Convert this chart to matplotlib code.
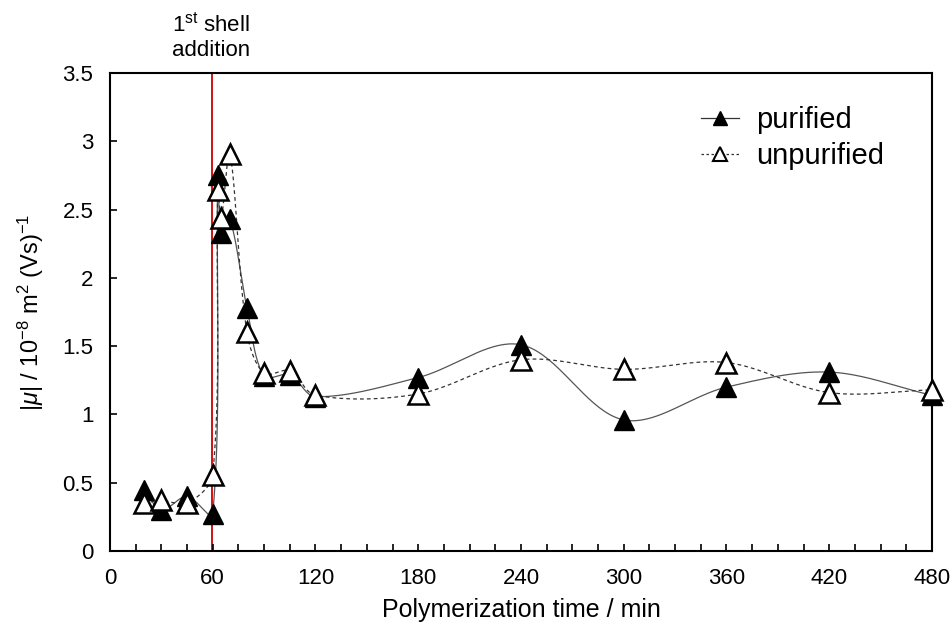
import numpy as np
import matplotlib
matplotlib.use("Agg")
import matplotlib.pyplot as plt
from matplotlib.lines import Line2D

plt.rcParams['font.family'] = ['Liberation Sans', 'DejaVu Sans']
plt.rcParams['mathtext.fontset'] = 'custom'
plt.rcParams['mathtext.rm'] = 'Liberation Sans'
plt.rcParams['mathtext.it'] = 'Liberation Sans:italic'

# data
time_min = [20, 30, 45, 60, 63, 65, 70, 80, 90, 105, 120, 180, 240, 300, 360, 420, 480]
purified = [0.45, 0.30, 0.40, 0.27, 2.75, 2.33, 2.43, 1.78, 1.28, 1.29, 1.13,
            1.27, 1.51, 0.96, 1.20, 1.31, 1.14]
unpurified = [0.35, 0.37, 0.35, 0.56, 2.64, 2.44, 2.91, 1.60, 1.30, 1.32, 1.14,
              1.15, 1.40, 1.33, 1.38, 1.16, 1.18]
x_ticks = [0, 60, 120, 180, 240, 300, 360, 420, 480]
y_ticks = [0, 0.5, 1, 1.5, 2, 2.5, 3, 3.5]
y_tick_labels = ['0', '0.5', '1', '1.5', '2', '2.5', '3', '3.5']
shell_time = 59.5


def smooth(x, y, sx=480.0, sy=6.0, n=40):
    # Excel-like smoothed line: Bezier segments, tangents limited by segment length
    p = np.column_stack([np.asarray(x, float) / sx, np.asarray(y, float) / sy])
    out = []
    for i in range(len(p) - 1):
        p0 = p[i - 1] if i > 0 else p[i]
        p1, p2 = p[i], p[i + 1]
        p3 = p[i + 2] if i + 2 < len(p) else p[i + 1]
        d01 = np.linalg.norm(p1 - p0)
        d12 = np.linalg.norm(p2 - p1)
        d23 = np.linalg.norm(p3 - p2)
        c1 = p1 + (p2 - p0) * (d12 / (d01 + d12)) / 3.0 if d01 > 0 else p1 + (p2 - p1) / 3.0
        c2 = p2 - (p3 - p1) * (d12 / (d12 + d23)) / 3.0 if d23 > 0 else p2 - (p2 - p1) / 3.0
        t = np.linspace(0, 1, n)[:, None]
        seg = ((1 - t) ** 3) * p1 + 3 * ((1 - t) ** 2) * t * c1 + 3 * (1 - t) * t ** 2 * c2 + t ** 3 * p2
        out.append(seg if i == 0 else seg[1:])
    out = np.vstack(out)
    return out[:, 0] * sx, out[:, 1] * sy


fig = plt.figure(figsize=(9.52, 6.28), dpi=100)
ax = fig.add_axes([0.1155, 0.1226, 0.8635, 0.7612])

ax.axvline(shell_time, color='#cc0000', lw=1.3, zorder=1)

sx, sy = smooth(time_min, purified)
ax.plot(sx, sy, color='#555555', lw=0.9, zorder=2)
sx, sy = smooth(time_min, unpurified)
ax.plot(sx, sy, color='#333333', lw=0.9, ls=(0, (3, 2.5)), zorder=2)

ax.plot(time_min, purified, ls='none', marker='^', ms=14, mfc='black', mec='black',
        zorder=3, clip_on=False)
ax.plot(time_min, unpurified, ls='none', marker='^', ms=14, mfc='white', mec='black',
        mew=1.8, zorder=4, clip_on=False)

ax.set_xlim(0, 480)
ax.set_ylim(0, 3.5)
ax.set_xticks(x_ticks)
ax.set_xticks(np.arange(0, 481, 15), minor=True)
ax.set_yticks(y_ticks)
ax.set_yticklabels(y_tick_labels)
ax.tick_params(axis='both', which='both', direction='in', labelsize=16, width=1.2, color='black')
ax.tick_params(axis='x', which='both', length=5, pad=12)
ax.tick_params(axis='y', which='major', length=5, pad=12)
for s in ax.spines.values():
    s.set_linewidth(1.5)

ax.set_xlabel('Polymerization time / min', fontsize=18, labelpad=7)
ax.set_ylabel(r'$|\mathit{\mu}|$ / 10$^{-8}$ m$^2$ (Vs)$^{-1}$', fontsize=17, labelpad=12)

ax.text(shell_time - 0.5, 1.025, '1$^{\\rm st}$ shell\naddition', transform=ax.get_xaxis_transform(),
        ha='center', va='bottom', fontsize=16, linespacing=1.2)

handles = [
    Line2D([], [], color='#333333', lw=0.9, marker='^', ms=10, mfc='black', mec='black'),
    Line2D([], [], color='#333333', lw=0.9, ls=(0, (2, 2)), marker='^', ms=10, mfc='white',
           mec='black', mew=1.5),
]
ax.legend(handles, ['purified', 'unpurified'], loc='upper left', bbox_to_anchor=(0.687, 0.985),
          frameon=False, fontsize=21, handlelength=1.3, handletextpad=0.6, labelspacing=0.26)

fig.savefig('out.png', dpi=100)
